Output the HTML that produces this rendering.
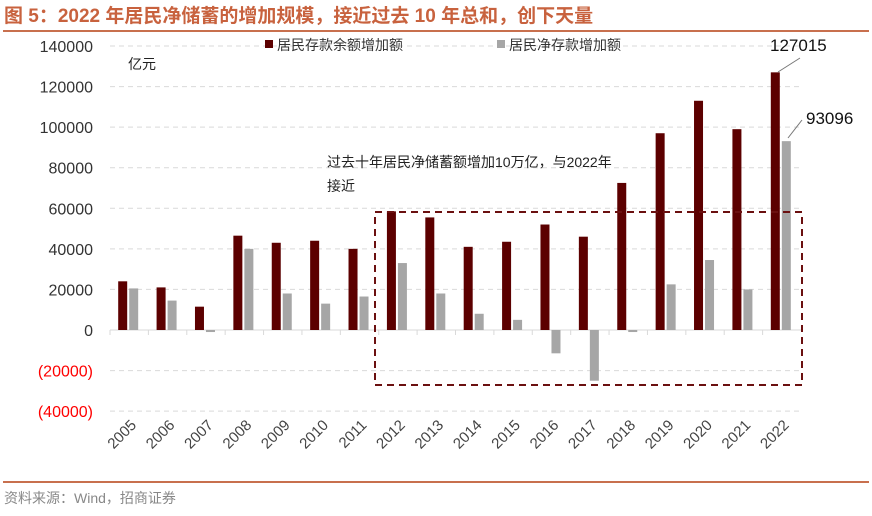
<!DOCTYPE html>
<html><head><meta charset="utf-8"><style>
body{margin:0;background:#fff;width:872px;height:511px;overflow:hidden;font-family:"Liberation Sans","Noto Sans CJK SC",sans-serif}
</style></head><body>
<svg width="872" height="511" style="font-family:'Liberation Sans','Noto Sans CJK SC',sans-serif">
<text x="4" y="22" font-size="19" font-weight="bold" fill="#c8623e">图 5：2022 年居民净储蓄的增加规模，接近过去 10 年总和，创下天量</text>
<line x1="3" y1="31" x2="869" y2="31" stroke="#c8704e" stroke-width="2"/>
<g id="grid"></g><g id="bars"></g><g id="ylab"></g><g id="xlab"></g>
<text x="128" y="69" font-size="14" fill="#222">亿元</text>
<rect x="265" y="40" width="8" height="8" fill="#5c0000"/>
<text x="277" y="50" font-size="14" fill="#333">居民存款余额增加额</text>
<rect x="497" y="40" width="8" height="8" fill="#a6a6a6"/>
<text x="509" y="50" font-size="14" fill="#333">居民净存款增加额</text>
<text x="327" y="167" font-size="14" fill="#222">过去十年居民净储蓄额增加10万亿，与2022年</text>
<text x="327" y="191" font-size="14" fill="#222">接近</text>
<rect x="375" y="212" width="427" height="173" fill="none" stroke="#6b1010" stroke-width="2" stroke-dasharray="7,5"/>
<text x="770" y="51" font-size="17" fill="#111">127015</text>
<line x1="778" y1="72" x2="800" y2="58" stroke="#777"/>
<text x="806" y="124" font-size="17" fill="#111">93096</text>
<line x1="788" y1="138" x2="802" y2="120" stroke="#777"/>
<line x1="3" y1="482" x2="869" y2="482" stroke="#c8704e" stroke-width="2"/>
<text x="4" y="503" font-size="14" fill="#888">资料来源：Wind，招商证券</text>
</svg>
<script>
const years=["2005","2006","2007","2008","2009","2010","2011","2012","2013","2014","2015","2016","2017","2018","2019","2020","2021","2022"];
const deposits=[24000,21000,11500,46500,43000,44000,40000,58500,55500,41000,43500,52000,46000,72500,97000,113000,99000,127015];
const netDeposits=[20500,14500,-1000,40000,18000,13000,16500,33000,18000,8000,5000,-11500,-25000,-1000,22500,34500,20000,93096];
const yTicks=[140000,120000,100000,80000,60000,40000,20000,0,-20000,-40000];
const ns="http://www.w3.org/2000/svg";
const x0=110,x1=801,yZero=330,pxPer=284/140000;
const y=v=>yZero-v*pxPer;
const bw=(x1-x0)/years.length;
function mk(t,a,p){const e=document.createElementNS(ns,t);for(const k in a)e.setAttribute(k,a[k]);p.appendChild(e);return e;}
const G=document.getElementById('grid'),B=document.getElementById('bars'),YL=document.getElementById('ylab'),XL=document.getElementById('xlab');
yTicks.forEach(t=>{
 if(t!==0){const l=mk('line',{x1:x0,x2:x1,y1:y(t),y2:y(t),stroke:'#d9d9d9','stroke-dasharray':'5,4'},G);
 
 }
 const tx=mk('text',{x:93,y:y(t)+6,'text-anchor':'end','font-size':16,fill:t<0?'#ff0000':'#333'},YL);
 tx.textContent=t<0?'('+(-t)+')':String(t);
 
 
});
const ax=mk('line',{x1:x0,x2:x1,y1:yZero,y2:yZero,stroke:'#d9d9d9'},G);


years.forEach((yr,i)=>{
 const c=x0+bw*(i+0.5);
 const tk=mk('line',{x1:x0+bw*i,x2:x0+bw*i,y1:yZero,y2:yZero+5,stroke:'#d9d9d9'},G);
 
 
 const d=deposits[i],n=netDeposits[i];
 const r1=mk('rect',{x:c-11,width:9,y:Math.min(y(d),yZero),height:Math.abs(y(d)-yZero),fill:'#5c0000'},B);
 
 
 const r2=mk('rect',{x:c,width:9,y:Math.min(y(n),yZero),height:Math.abs(y(n)-yZero),fill:'#a6a6a6'},B);
 
 
 const t=mk('text',{x:c+8,y:426,'text-anchor':'end','font-size':15,fill:'#444',transform:`rotate(-45 ${c+8} 426)`},XL);
 t.textContent=yr;
 
 
});
</script>
</body></html>
